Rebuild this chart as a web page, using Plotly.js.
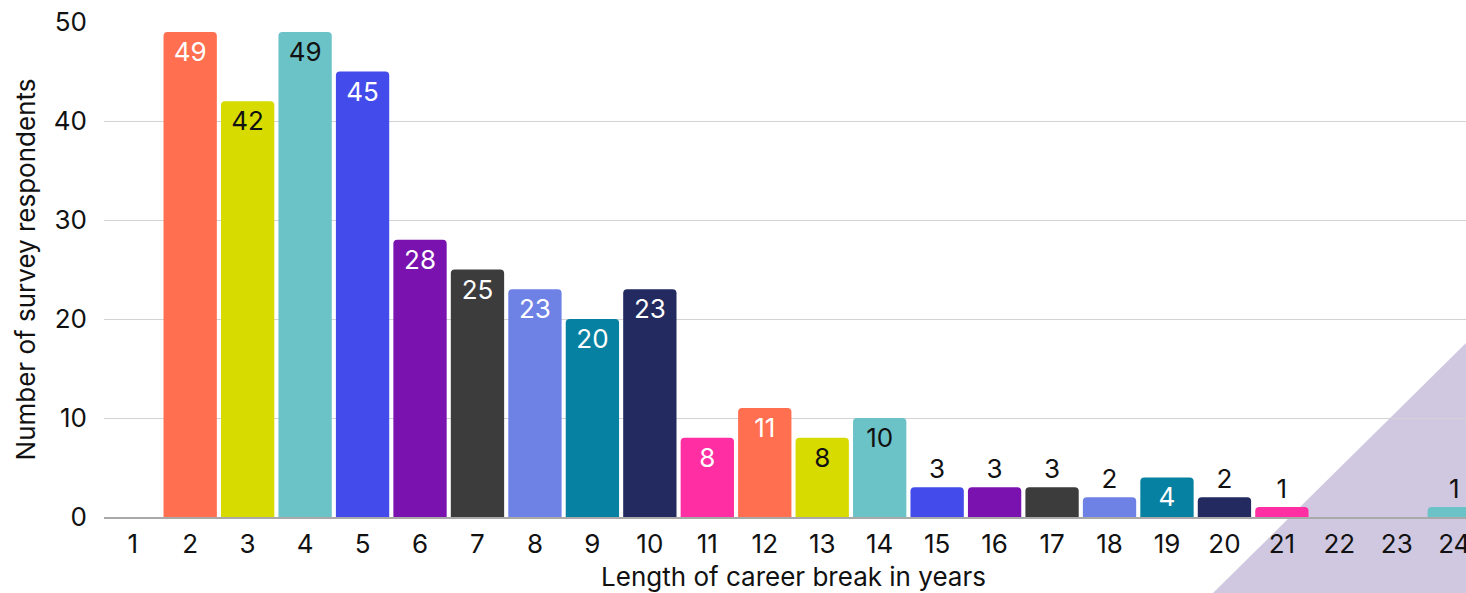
<!DOCTYPE html>
<html>
<head>
<meta charset="utf-8">
<script src="https://cdn.plot.ly/plotly-3.0.1.min.js"></script>
<style>
  html, body { margin: 0; padding: 0; overflow: hidden; background: #fff; }
  #wrap { position: relative; width: 1466px; height: 593px; overflow: hidden; background: #fff; }
  #corner {
    position: absolute; left: 0; top: 0; width: 1466px; height: 593px;
    background: #D0C8E0;
    clip-path: polygon(1213px 593px, 1466px 343px, 1466px 593px);
  }
  #chart { position: absolute; left: 0; top: 0; }
</style>
</head>
<body>
<div id="wrap">
  <div id="corner"></div>
  <div id="chart"></div>
</div>
<script>
// Career break length (years) and how many respondents reported each
const breakYears = ['1','2','3','4','5','6','7','8','9','10','11','12','13','14','15','16','17','18','19','20','21','22','23','24'];
const respondents = [0, 49, 42, 49, 45, 28, 25, 23, 20, 23, 8, 11, 8, 10, 3, 3, 3, 2, 4, 2, 1, 0, 0, 1];

// Ten-colour palette, repeating along the categories
const palette = ['#FF2FA3', '#FF6F50', '#D7DB00', '#6BC3C8', '#444BEB', '#7A12B0', '#3C3C3C', '#6E82E6', '#0781A1', '#232A60'];
// Label colour that reads well on each palette colour
const paletteText = ['#ffffff', '#ffffff', '#111111', '#111111', '#ffffff', '#ffffff', '#ffffff', '#ffffff', '#ffffff', '#ffffff'];

const barColors = breakYears.map((_, i) => palette[i % palette.length]);
const insideColors = breakYears.map((_, i) => paletteText[i % paletteText.length]);
const labels = respondents.map(v => v > 0 ? String(v) : '');
const positions = respondents.map(v => v >= 4 ? 'inside' : 'outside');

const font = 'Inter, "Noto Sans", sans-serif';
const fs = 26;

const trace = {
  type: 'bar',
  x: breakYears,
  y: respondents,
  text: labels,
  textposition: positions,
  insidetextanchor: 'end',
  insidetextfont: { family: font, size: fs, color: insideColors },
  outsidetextfont: { family: font, size: fs, color: '#111111' },
  textangle: 0,
  cliponaxis: false,
  constraintext: 'none',
  marker: { color: barColors, cornerradius: 4, line: { width: 0 } },
  hoverinfo: 'x+y'
};

const layout = {
  width: 1483,
  height: 593,
  margin: { l: 104, r: 0, t: 22, b: 76 },
  paper_bgcolor: 'rgba(0,0,0,0)',
  plot_bgcolor: 'rgba(0,0,0,0)',
  bargap: 0.072,
  showlegend: false,
  font: { family: font, size: fs, color: '#111111' },
  xaxis: {
    type: 'category',
    showgrid: false,
    showline: true,
    linecolor: '#a9a9a9',
    linewidth: 2,
    ticks: '',
    ticklabelstandoff: 3,
    tickfont: { family: font, size: fs, color: '#111111' },
    title: { text: 'Length of career break in years', font: { family: font, size: fs, color: '#111111' }, standoff: 10 }
  },
  yaxis: {
    range: [0, 50],
    tickvals: [0, 10, 20, 30, 40, 50],
    showgrid: true,
    gridcolor: '#d3d3d3',
    gridwidth: 1,
    zeroline: false,
    showline: false,
    ticks: '',
    ticklabelstandoff: 16,
    tickfont: { family: font, size: fs, color: '#111111' },
    title: { text: 'Number of survey respondents', font: { family: font, size: fs, color: '#111111' }, standoff: 10 }
  }
};

Plotly.newPlot('chart', [trace], layout, { displayModeBar: false, staticPlot: true });
</script>
</body>
</html>
